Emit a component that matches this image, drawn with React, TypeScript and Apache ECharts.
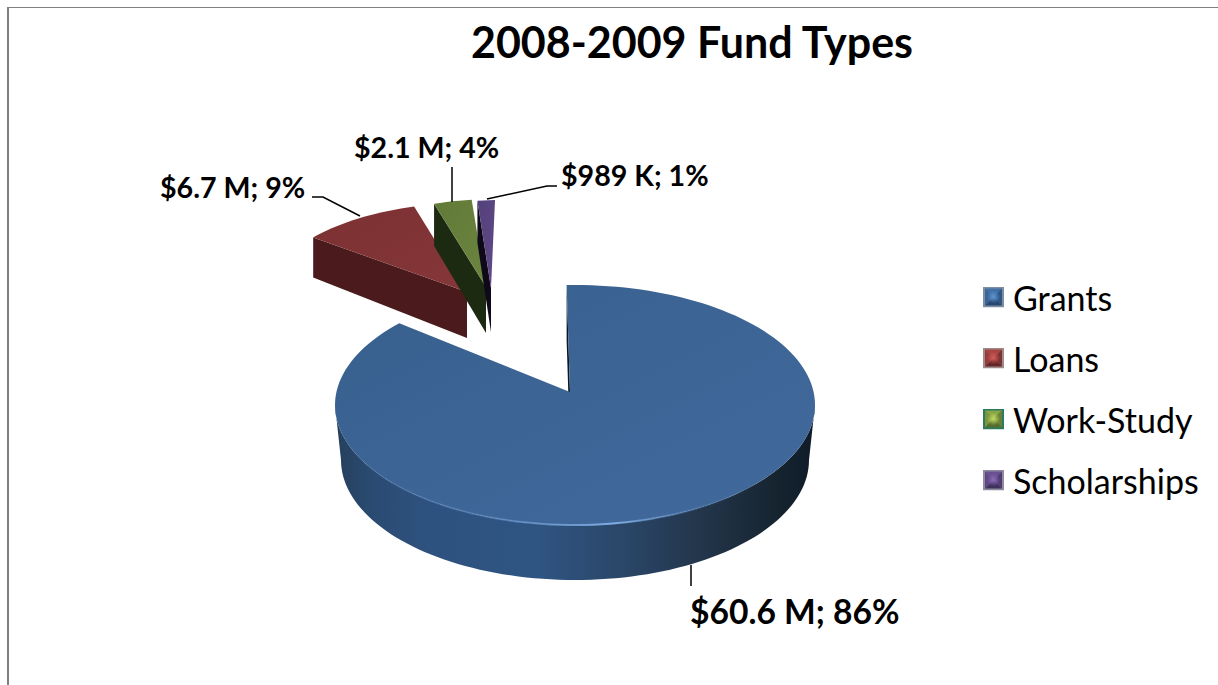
import React, { useEffect, useRef } from "react";
import * as echarts from "echarts";

const titleText = "2008-2009 Fund Types";
const categories = ["Grants", "Loans", "Work-Study", "Scholarships"];
const fundValues = [60.6, 6.7, 2.1, 0.989];
const labelTexts = ["$60.6 M; 86%", "$6.7 M; 9%", "$2.1 M; 4%", "$989 K; 1%"];

const FONT = "Lato, Carlito, sans-serif";
const START = -2; // degrees clockwise from the top of the ellipse

type Pt = [number, number];
const layouts = [
  { cx: 575, cy: 405, rx: 240, ry: 120, ax: 570, ay: 392, dO: 55, dA: 55, endPad: 5,
    face: ["#38608e", "#41699c"], wall: "#0c1826",
    leader: [[691, 565], [691, 586]] as Pt[], lx: 690, ly: 611, fs: 33.6 },
  { cx: 478, cy: 294, rx: 209, ry: 92, ax: 467, ay: 292, dO: 40, dA: 46, endPad: 0,
    face: ["#7c3133", "#853638"], wall: "#4b1a1c",
    leader: [[312, 197], [323, 197], [360, 216]] as Pt[], lx: 160, ly: 186.5, fs: 28.6 },
  { cx: 497, cy: 299, rx: 206, ry: 100, ax: 486, ay: 287, dO: 42, dA: 46, endPad: 0,
    face: ["#617a38", "#6b843e"], wall: "#1d2a12",
    leader: [[452, 167], [452, 202]] as Pt[], lx: 354, ly: 147, fs: 28.6 },
  { cx: 502, cy: 300, rx: 200, ry: 100, ax: 491, ay: 288, dO: 42, dA: 44, endPad: 0,
    face: ["#54407a", "#5f4a88"], wall: "#0e0818",
    leader: [[487, 199], [547, 186], [557, 186]] as Pt[], lx: 561, ly: 175, fs: 28.6 },
];

const bevels = [
  { top: "#3f70a8", left: "#386496", right: "#2f5684", bottom: "#274870", glow: "#5f96d2", edge: "#7f8fa3" },
  { top: "#a84442", left: "#963c3c", right: "#7c3232", bottom: "#642627", glow: "#d85c58", edge: "#a08a8a" },
  { top: "#8aa644", left: "#7c963e", right: "#6a8236", bottom: "#566e2c", glow: "#c4dc62", edge: "#2c7a60" },
  { top: "#6a4f92", left: "#5f4686", right: "#503c74", bottom: "#40305e", glow: "#8a6cb8", edge: "#8f8a9c" },
];

function legendIcon(i: number) {
  const b = bevels[i];
  const svg =
    `<svg xmlns="http://www.w3.org/2000/svg" width="21" height="21" viewBox="0 0 21 21">` +
    `<defs><radialGradient id="g"><stop offset="0" stop-color="${b.glow}"/>` +
    `<stop offset="1" stop-color="${b.glow}" stop-opacity="0"/></radialGradient></defs>` +
    `<rect width="21" height="21" fill="${b.edge}"/>` +
    `<polygon points="2,2 19,2 10.5,10.5" fill="${b.top}"/>` +
    `<polygon points="2,2 2,19 10.5,10.5" fill="${b.left}"/>` +
    `<polygon points="19,2 19,19 10.5,10.5" fill="${b.right}"/>` +
    `<polygon points="2,19 19,19 10.5,10.5" fill="${b.bottom}"/>` +
    `<rect x="4" y="4" width="13" height="13" fill="url(#g)"/></svg>`;
  return "image://data:image/svg+xml;charset=utf-8," + encodeURIComponent(svg);
}

const total = fundValues.reduce((a, b) => a + b, 0);
function sliceAngles(i: number) {
  let from = START;
  for (let k = 0; k < i; k++) from += (fundValues[k] / total) * 360;
  return [from, from + (fundValues[i] / total) * 360];
}

function arcPoints(cx: number, cy: number, rx: number, ry: number, a0: number, a1: number): Pt[] {
  const n = Math.max(2, Math.ceil(Math.abs(a1 - a0) / 2));
  const out: Pt[] = [];
  for (let s = 0; s <= n; s++) {
    const t = ((a0 + ((a1 - a0) * s) / n) * Math.PI) / 180;
    out.push([cx + rx * Math.sin(t), cy - ry * Math.cos(t)]);
  }
  return out;
}

function renderSlice(params: any, api: any) {
  const i = params.seriesIndex;
  const L = layouts[i];
  api.value(0);
  const [a0, a1Raw] = sliceAngles(i);
  const a1 = a1Raw + L.endPad;
  const children: any[] = [];

  // radial wall on the first edge of the slice
  const p0 = arcPoints(L.cx, L.cy, L.rx, L.ry, a0, a0)[0];
  children.push({
    type: "polygon",
    shape: { points: [p0, [L.ax, L.ay], [L.ax, L.ay + L.dA], [p0[0], p0[1] + L.dO]] },
    style: { fill: L.wall },
  });

  // outer rim where it faces the viewer
  const r0 = Math.max(a0, 90);
  const r1 = Math.min(a1, 270);
  if (r1 > r0) {
    const top = arcPoints(L.cx, L.cy, L.rx, L.ry, r0, r1);
    const bottom = arcPoints(L.cx, L.cy + L.dO, L.rx - 6, L.ry, r1, r0);
    children.push({
      type: "polygon",
      shape: { points: [...top, ...bottom] },
      style: {
        fill: new echarts.graphic.LinearGradient(0, 0, 1, 0, [
          { offset: 0, color: "#263f5c" },
          { offset: 0.07, color: "#2a4a70" },
          { offset: 0.2, color: "#2e5280" },
          { offset: 0.42, color: "#2f5582" },
          { offset: 0.6, color: "#2a4668" },
          { offset: 0.74, color: "#24384f" },
          { offset: 0.92, color: "#16242f" },
          { offset: 1, color: "#0f1b2a" },
        ]),
      },
    });
  }

  // top face
  const rim = arcPoints(L.cx, L.cy, L.rx, L.ry, a0, a1);
  children.push({
    type: "polygon",
    shape: { points: [[L.ax, L.ay], ...rim] },
    style: {
      fill: new echarts.graphic.LinearGradient(0, 0, 1, 1, [
        { offset: 0, color: L.face[0] },
        { offset: 1, color: L.face[1] },
      ]),
    },
  });

  // bright front edge of the large slice
  if (r1 > r0) {
    children.push({
      type: "polyline",
      shape: { points: arcPoints(L.cx, L.cy, L.rx, L.ry, 130, 255) },
      style: {
        fill: "none",
        lineWidth: 2,
        stroke: new echarts.graphic.LinearGradient(0, 0, 1, 0, [
          { offset: 0, color: "rgba(90,135,190,0)" },
          { offset: 0.3, color: "rgba(90,135,190,0.55)" },
          { offset: 0.65, color: "rgba(130,175,230,0.95)" },
          { offset: 0.85, color: "rgba(90,135,190,0.4)" },
          { offset: 1, color: "rgba(90,135,190,0)" },
        ]),
      },
    });
  }

  // leader line and data label
  children.push({
    type: "polyline",
    shape: { points: L.leader },
    style: { fill: "none", stroke: "#000000", lineWidth: 1.5 },
  });
  children.push({
    type: "text",
    style: {
      x: L.lx,
      y: L.ly,
      text: labelTexts[i],
      fontFamily: FONT,
      fontWeight: 700,
      fontSize: L.fs,
      fill: "#000000",
      align: "left",
      verticalAlign: "middle",
    },
  });
  return { type: "group", children };
}

export default function App() {
  const ref = useRef<HTMLDivElement>(null);
  useEffect(() => {
    document.body.style.margin = "0";
    const chart = echarts.init(ref.current!, null, { renderer: "svg" });
    chart.setOption({
      animation: false,
      backgroundColor: "#ffffff",
      title: {
        text: titleText,
        left: 687,
        top: 15,
        textAlign: "center",
        textStyle: { fontFamily: FONT, fontWeight: 700, fontSize: 43, color: "#000000" },
      },
      legend: {
        data: categories.map((name, i) => ({ name, icon: legendIcon(i) })),
        orient: "vertical",
        left: 978,
        top: 272,
        itemWidth: 21,
        itemHeight: 21,
        itemGap: 21,
        selectedMode: false,
        textStyle: { fontFamily: FONT, fontSize: 34, color: "#000000", padding: [0, 0, 0, 4], lineHeight: 40 },
      },
      graphic: [
        { type: "line", shape: { x1: 7, y1: 7.5, x2: 1218, y2: 7.5 }, style: { stroke: "#808080", lineWidth: 1 } },
        { type: "line", shape: { x1: 8, y1: 7, x2: 8, y2: 685 }, style: { stroke: "#808080", lineWidth: 2 } },
      ],
      series: categories.map((name, i) => ({
        type: "custom",
        name,
        coordinateSystem: "none",
        renderItem: renderSlice,
        data: [[fundValues[i]]],
        itemStyle: { color: layouts[i].face[1] },
        silent: true,
      })),
    });
    return () => chart.dispose();
  }, []);
  return <div ref={ref} style={{ position: "absolute", left: 0, top: 0, width: 1218, height: 685 }} />;
}
